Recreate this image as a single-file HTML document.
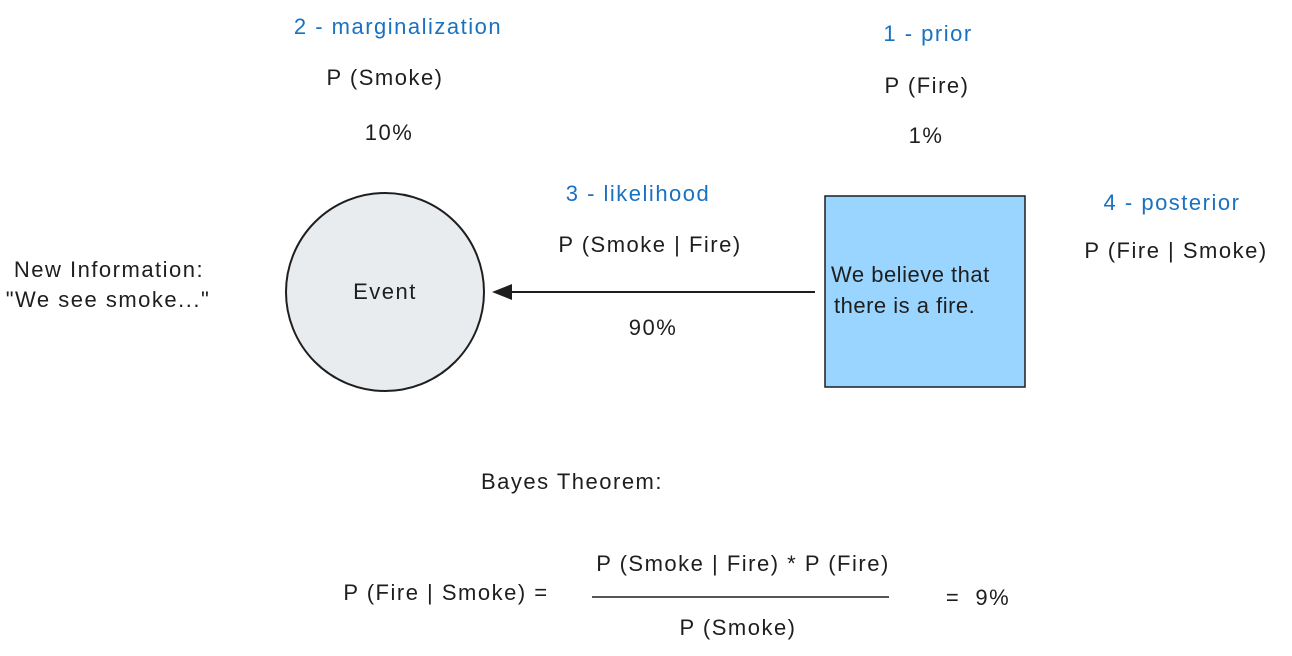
<!DOCTYPE html>
<html><head><meta charset="utf-8"><style>
html,body{margin:0;padding:0;background:#fff;}
body{width:1292px;height:656px;position:relative;overflow:hidden;font-family:"Liberation Sans",sans-serif;color:#1e1e1e;}
.t{position:absolute;font-size:22px;letter-spacing:1.5px;white-space:nowrap;transform:translate(-50%,-50%);}
.l{position:absolute;font-size:22px;letter-spacing:0.5px;white-space:nowrap;transform:translateY(-50%);}
.b{color:#1971c2;}
</style></head><body>
<svg width="1292" height="656" style="position:absolute;left:0;top:0">
<circle cx="385" cy="292" r="99" fill="#e9ecef" stroke="#1e1e1e" stroke-width="2"/>
<rect x="825" y="196" width="200" height="191" fill="#99d5ff" stroke="#1e1e1e" stroke-width="1.5"/>
<line x1="815" y1="292" x2="500" y2="292" stroke="#1e1e1e" stroke-width="2"/>
<polygon points="492,292 512,284 512,300" fill="#1e1e1e"/>
<line x1="592" y1="597" x2="889" y2="597" stroke="#1e1e1e" stroke-width="1.5"/>
</svg>
<div class="t b" style="left:398px;top:27px">2 - marginalization</div>
<div class="t" style="left:385px;top:78px">P (Smoke)</div>
<div class="t" style="left:389px;top:133px">10%</div>
<div class="t b" style="left:928px;top:34px">1 - prior</div>
<div class="t" style="left:927px;top:86px">P (Fire)</div>
<div class="t" style="left:926px;top:136px">1%</div>
<div class="t b" style="left:638px;top:194px">3 - likelihood</div>
<div class="t" style="left:650px;top:245px">P (Smoke | Fire)</div>
<div class="t" style="left:653px;top:328px">90%</div>
<div class="t b" style="left:1172px;top:203px">4 - posterior</div>
<div class="t" style="left:1176px;top:251px">P (Fire | Smoke)</div>
<div class="t" style="left:109px;top:270px">New Information:</div>
<div class="t" style="left:108px;top:300px">"We see smoke..."</div>
<div class="t" style="left:385px;top:292px">Event</div>
<div class="l" style="left:831px;top:275px">We believe that</div>
<div class="l" style="left:834px;top:306px">there is a fire.</div>
<div class="t" style="left:572px;top:482px">Bayes Theorem:</div>
<div class="t" style="left:446px;top:593px">P (Fire | Smoke) =</div>
<div class="t" style="left:743px;top:564px">P (Smoke | Fire) * P (Fire)</div>
<div class="t" style="left:738px;top:628px">P (Smoke)</div>
<div class="t" style="left:978px;top:598px">=&nbsp;&nbsp;9%</div>
</body></html>
